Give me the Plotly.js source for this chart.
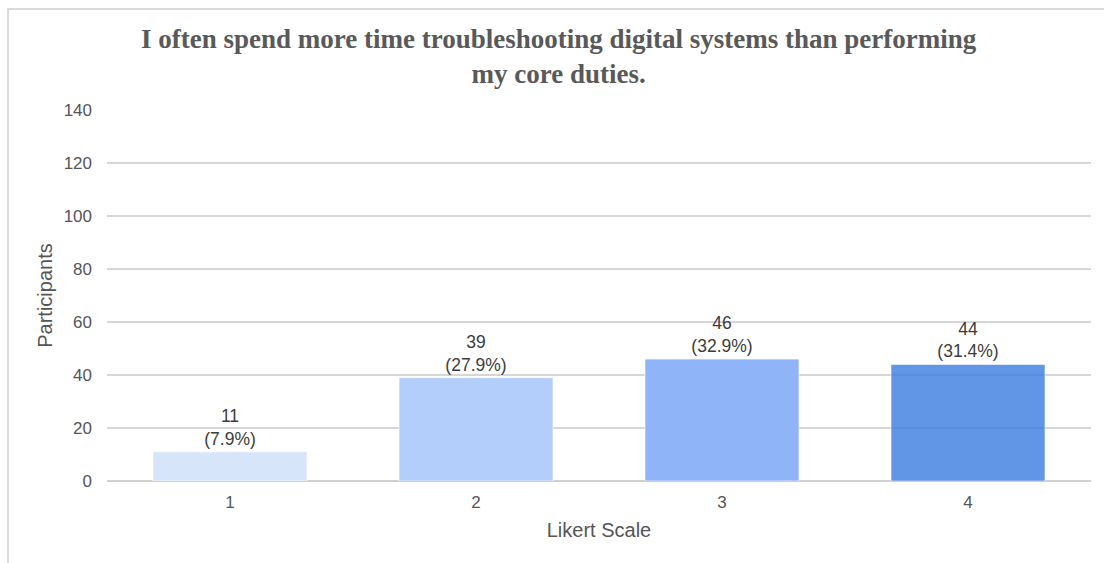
<!DOCTYPE html>
<html>
<head>
<meta charset="utf-8">
<script src="https://cdn.plot.ly/plotly-3.0.1.min.js"></script>
<style>
  html, body { margin: 0; padding: 0; background: #ffffff; }
  #frame { position: absolute; left: 7px; top: 8px; width: 1110px; height: 560px;
           border-top: 2px solid #d9d9d9; border-left: 2px solid #d9d9d9; pointer-events: none; z-index: 5; }
  #chart { position: absolute; left: 0; top: 0; width: 1104px; height: 563px; }
</style>
</head>
<body>
<div id="chart"></div>
<div id="frame"></div>
<script>
const categories = ["1", "2", "3", "4"];
const participants = [11, 39, 46, 44];
const percentLabels = ["7.9%", "27.9%", "32.9%", "31.4%"];
const barColors = ["#d7e5fb", "#b3cefa", "#8fb5f8", "rgba(58,122,224,0.8)"];
const yTicks = [0, 20, 40, 60, 80, 100, 120, 140];

const labels = participants.map((v, i) => v + "<br>(" + percentLabels[i] + ")");

const trace = {
  type: "bar",
  x: categories,
  y: participants,
  text: labels,
  textposition: "outside",
  cliponaxis: false,
  textfont: { family: "Liberation Sans, Arial, sans-serif", size: 17.5, color: "#3c3c3c" },
  marker: { color: barColors, line: { color: "rgba(255,255,255,0.6)", width: 1 } },
  width: 0.626,
  hoverinfo: "none"
};

const layout = {
  width: 1104,
  height: 563,
  margin: { l: 107, r: 13, t: 110, b: 82 },
  paper_bgcolor: "#ffffff",
  plot_bgcolor: "rgba(0,0,0,0)",
  showlegend: false,
  title: {
    text: "I often spend more time troubleshooting digital systems than performing<br>my core duties.",
    font: { family: "Liberation Serif, Times New Roman, serif", size: 27, color: "#595959", weight: "bold" },
    x: 0.506, xanchor: "center", xref: "container",
    y: 0.915, yanchor: "top", yref: "container"
  },
  xaxis: {
    type: "category",
    categoryarray: categories,
    showgrid: false,
    showline: false,
    ticks: "",
    ticklabelstandoff: 9,
    tickfont: { family: "Liberation Sans, Arial, sans-serif", size: 17, color: "#555555" },
    title: { text: "Likert Scale", font: { family: "Liberation Sans, Arial, sans-serif", size: 20, color: "#555555" }, standoff: 11 }
  },
  yaxis: {
    range: [0, 140],
    tickvals: yTicks,
    ticktext: yTicks.map(String),
    showgrid: true,
    gridcolor: "rgba(200,200,200,0.75)",
    gridwidth: 1.5,
    zeroline: true,
    zerolinecolor: "#d0d0d0",
    zerolinewidth: 1.5,
    showline: false,
    ticks: "",
    ticklabelstandoff: 14,
    tickfont: { family: "Liberation Sans, Arial, sans-serif", size: 17, color: "#555555" },
    title: { text: "Participants", font: { family: "Liberation Sans, Arial, sans-serif", size: 20, color: "#555555" }, standoff: 5 }
  }
};

Plotly.newPlot("chart", [trace], layout, { displayModeBar: false, staticPlot: true });
</script>
</body>
</html>
